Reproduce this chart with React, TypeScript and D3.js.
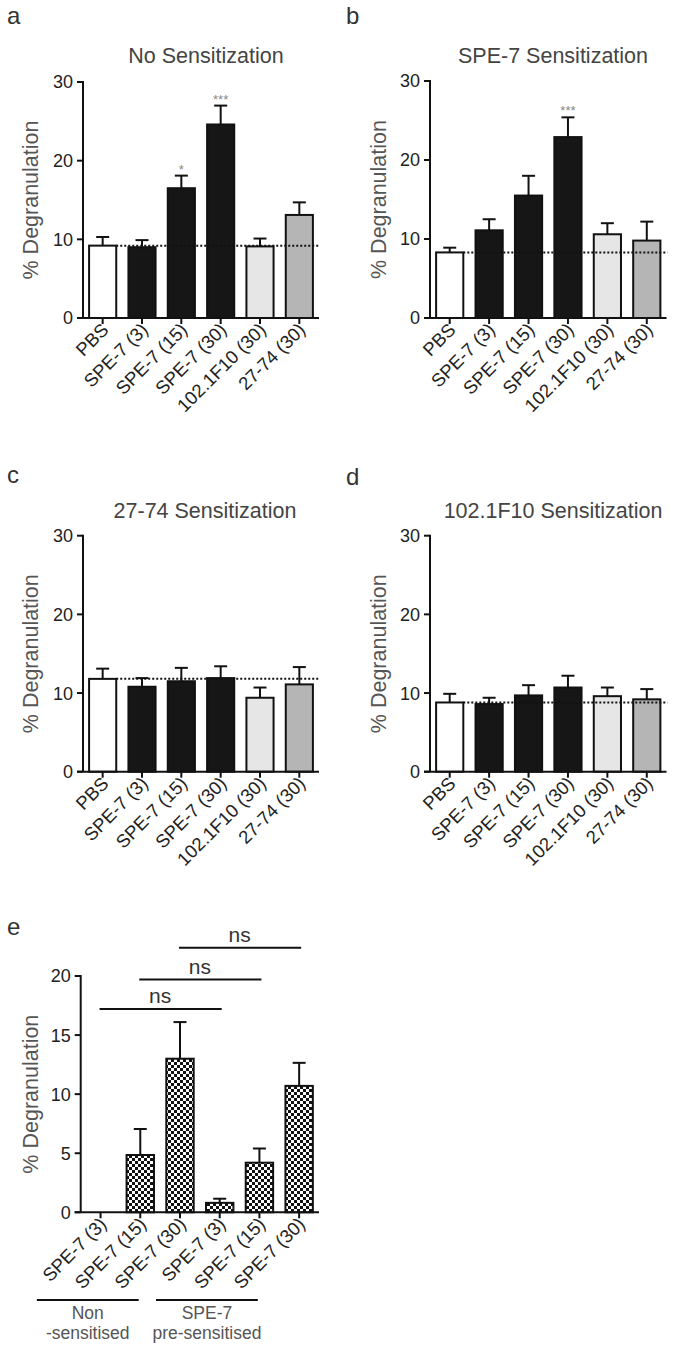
import React from 'react';
import * as d3 from 'd3';

// categories (panels a-d)
const categories = ['PBS', 'SPE-7 (3)', 'SPE-7 (15)', 'SPE-7 (30)', '102.1F10 (30)', '27-74 (30)'];
const barFills = ['#ffffff', '#161616', '#161616', '#161616', '#e6e6e6', '#b5b5b5'];

// panel a - no sensitization
const noSensMean = [9.2, 9.0, 16.5, 24.6, 9.1, 13.1];
const noSensErr = [1.1, 0.9, 1.6, 2.4, 1.0, 1.6];
const noSensStars = ['', '', '*', '***', '', ''];

// panel b - SPE-7 sensitization
const speSensMean = [8.3, 11.1, 15.5, 22.9, 10.6, 9.8];
const speSensErr = [0.6, 1.4, 2.5, 2.5, 1.4, 2.4];
const speSensStars = ['', '', '', '***', '', ''];

// panel c - 27-74 sensitization
const s2774Mean = [11.8, 10.8, 11.5, 11.9, 9.4, 11.1];
const s2774Err = [1.3, 1.1, 1.7, 1.5, 1.3, 2.2];

// panel d - 102.1F10 sensitization
const s102Mean = [8.8, 8.6, 9.7, 10.7, 9.6, 9.2];
const s102Err = [1.1, 0.8, 1.3, 1.5, 1.1, 1.3];

const topTicks = [0, 10, 20, 30];

// panel e
const eCategories = ['SPE-7 (3)', 'SPE-7 (15)', 'SPE-7 (30)', 'SPE-7 (3)', 'SPE-7 (15)', 'SPE-7 (30)'];
const eMean = [0, 4.85, 13.0, 0.8, 4.2, 10.7];
const eErr = [0, 2.2, 3.1, 0.35, 1.2, 1.95];
const eTicks = [0, 5, 10, 15, 20];
// [from, to, height] in data units
const eComparisons = [[0, 3, 17.2], [1, 4, 19.7], [2, 5, 22.4]];
const eGroups = [
  { from: 0, to: 2, lines: ['Non', '-sensitised'] },
  { from: 3, to: 5, lines: ['SPE-7', 'pre-sensitised'] },
];

const FONT = 'Liberation Sans, Arial, Helvetica, sans-serif';

type PanelProps = {
  letter: string;
  letterX: number;
  letterY: number;
  title: string;
  titleX: number;
  titleY: number;
  x0: number;
  x1: number;
  y0: number;
  y1: number;
  yMax: number;
  ticks: number[];
  labels: string[];
  means: number[];
  errs: number[];
  fills?: string[];
  stars?: string[];
  dotted?: boolean;
  yLabelX: number;
};

const Panel = (p: PanelProps) => {
  const idx = p.labels.map((_, i) => String(i));
  const x = d3.scaleBand().domain(idx).range([p.x0, p.x1]).paddingInner(0.31).paddingOuter(0.155);
  const y = d3.scaleLinear().domain([0, p.yMax]).range([p.y0, p.y1]);
  const bw = x.bandwidth();
  const cx = (i: number) => (x(String(i)) as number) + bw / 2;

  return (
    <g>
      {p.letter && (
        <text x={p.letterX} y={p.letterY} fontSize={24} fill="#333" fontFamily={FONT}>{p.letter}</text>
      )}
      {p.title && (
        <text x={p.titleX} y={p.titleY} fontSize={21.5} fill="#444" textAnchor="middle" fontFamily={FONT}>{p.title}</text>
      )}
      <text
        transform={`translate(${p.yLabelX},${(p.y0 + p.y1) / 2}) rotate(-90)`}
        dy="0.35em"
        fontSize={21.5}
        fill="#555"
        textAnchor="middle"
        fontFamily={FONT}
      >% Degranulation</text>

      {/* bars */}
      {p.means.map((m, i) => (m > 0 ? (
        <rect
          key={'b' + i}
          x={x(String(i))}
          y={y(m)}
          width={bw}
          height={y(0) - y(m)}
          fill={p.fills ? p.fills[i] : 'url(#checker)'}
          stroke="#111"
          strokeWidth={2}
        />
      ) : null))}

      {/* error bars */}
      {p.means.map((m, i) => (p.errs[i] > 0 ? (
        <g key={'e' + i} stroke="#111" strokeWidth={2}>
          <line x1={cx(i)} x2={cx(i)} y1={y(m)} y2={y(m + p.errs[i])} />
          <line x1={cx(i) - 6.5} x2={cx(i) + 6.5} y1={y(m + p.errs[i])} y2={y(m + p.errs[i])} />
        </g>
      ) : null))}

      {p.dotted && (
        <line
          x1={(x('0') as number) + bw}
          x2={p.x1 + 1}
          y1={y(p.means[0])}
          y2={y(p.means[0])}
          stroke="#111"
          strokeWidth={2}
          strokeDasharray="2,2"
        />
      )}

      {p.stars && p.stars.map((s, i) => (s ? (
        <text key={'s' + i} x={cx(i)} y={y(p.means[i] + p.errs[i]) - 2} fontSize={13} fill="#888" textAnchor="middle" fontFamily={FONT}>{s}</text>
      ) : null))}

      {/* y axis */}
      <line x1={p.x0} x2={p.x0} y1={p.y0} y2={p.y1 - 1} stroke="#111" strokeWidth={2} />
      {p.ticks.map((t) => (
        <g key={'yt' + t}>
          <line x1={p.x0 - 6} x2={p.x0} y1={y(t)} y2={y(t)} stroke="#111" strokeWidth={2} />
          <text x={p.x0 - 10} y={y(t)} dy="0.36em" fontSize={18} fill="#222" textAnchor="end" fontFamily={FONT}>{t}</text>
        </g>
      ))}

      {/* x axis */}
      <line x1={p.x0 - 6} x2={p.x1} y1={p.y0} y2={p.y0} stroke="#111" strokeWidth={2} />
      {p.labels.map((l, i) => (
        <g key={'xt' + i}>
          <line x1={cx(i)} x2={cx(i)} y1={p.y0} y2={p.y0 + 6} stroke="#111" strokeWidth={2} />
          <text
            transform={`translate(${cx(i) + 7},${p.y0 + 13}) rotate(-45)`}
            fontSize={18.5}
            fill="#222"
            textAnchor="end"
            fontFamily={FONT}
          >{l}</text>
        </g>
      ))}
    </g>
  );
};

const PanelE = () => {
  const x0 = 80.7, x1 = 319, y0 = 1212.3, y1 = 976;
  const idx = eCategories.map((_, i) => String(i));
  const x = d3.scaleBand().domain(idx).range([x0, x1]).paddingInner(0.31).paddingOuter(0.155);
  const y = d3.scaleLinear().domain([0, 20]).range([y0, y1]);
  const cx = (i: number) => (x(String(i)) as number) + x.bandwidth() / 2;

  return (
    <g>
      <Panel
        letter="e" letterX={7} letterY={935}
        title="" titleX={0} titleY={0}
        x0={x0} x1={x1} y0={y0} y1={y1} yMax={20}
        ticks={eTicks} labels={eCategories}
        means={eMean} errs={eErr}
        yLabelX={30}
      />
      {eComparisons.map(([a, b, h], k) => (
        <g key={'c' + k}>
          <line x1={cx(a) - 1} x2={cx(b) + 2} y1={y(h)} y2={y(h)} stroke="#111" strokeWidth={2} />
          <text x={(cx(a) + cx(b)) / 2} y={y(h) - 6} fontSize={21} fill="#333" textAnchor="middle" fontFamily={FONT}>ns</text>
        </g>
      ))}
      {eGroups.map((g, k) => {
        // group bracket sits under the slanted labels, shifted left of the bars
        const gx0 = (x(String(g.from)) as number) - 50;
        const gx1 = (x(String(g.to)) as number) + x.bandwidth() - 55;
        const mid = (gx0 + gx1) / 2;
        return (
          <g key={'g' + k}>
            <line x1={gx0} x2={gx1} y1={1300} y2={1300} stroke="#111" strokeWidth={2} />
            <text x={mid} y={1319} fontSize={17.5} fill="#555" textAnchor="middle" fontFamily={FONT}>{g.lines[0]}</text>
            <text x={mid} y={1339} fontSize={17.5} fill="#555" textAnchor="middle" fontFamily={FONT}>{g.lines[1]}</text>
          </g>
        );
      })}
    </g>
  );
};

export default function App() {
  return (
    <svg width={675} height={1351} style={{ position: 'absolute', left: 0, top: 0, background: '#fff' }}>
      <defs>
        <pattern id="checker" width={6} height={6} patternUnits="userSpaceOnUse">
          <rect width={6} height={6} fill="#fff" />
          <rect x={0} y={0} width={3} height={3} fill="#111" />
          <rect x={3} y={3} width={3} height={3} fill="#111" />
        </pattern>
      </defs>
      <rect width={675} height={1351} fill="#fff" />

      <Panel
        letter="a" letterX={7} letterY={24}
        title="No Sensitization" titleX={206} titleY={63}
        x0={83} x1={319} y0={318} y1={82} yMax={30}
        ticks={topTicks} labels={categories}
        means={noSensMean} errs={noSensErr} fills={barFills} stars={noSensStars}
        dotted yLabelX={30}
      />
      <Panel
        letter="b" letterX={346} letterY={24}
        title="SPE-7 Sensitization" titleX={553} titleY={63}
        x0={430} x1={666.5} y0={318} y1={81} yMax={30}
        ticks={topTicks} labels={categories}
        means={speSensMean} errs={speSensErr} fills={barFills} stars={speSensStars}
        dotted yLabelX={378}
      />
      <Panel
        letter="c" letterX={7} letterY={483}
        title="27-74 Sensitization" titleX={205} titleY={518}
        x0={83} x1={319} y0={771.7} y1={535.7} yMax={30}
        ticks={topTicks} labels={categories}
        means={s2774Mean} errs={s2774Err} fills={barFills}
        dotted yLabelX={30}
      />
      <Panel
        letter="d" letterX={346} letterY={485}
        title="102.1F10 Sensitization" titleX={553} titleY={518}
        x0={430} x1={666.5} y0={771.7} y1={535.7} yMax={30}
        ticks={topTicks} labels={categories}
        means={s102Mean} errs={s102Err} fills={barFills}
        dotted yLabelX={378}
      />
      <PanelE />
    </svg>
  );
}
